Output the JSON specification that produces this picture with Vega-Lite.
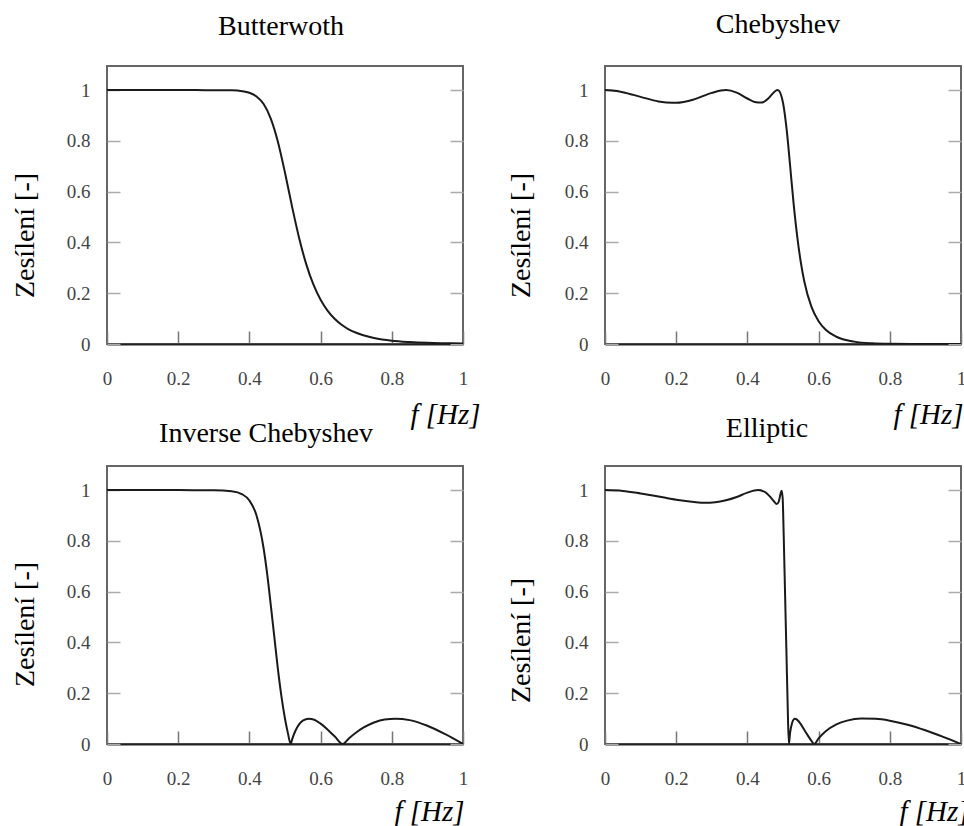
{
  "$schema": "https://vega.github.io/schema/vega-lite/v6.json",
  "background": "white",
  "padding": {"left": 10, "top": 10, "right": 0, "bottom": 0},
  "config": {
    "view": {"stroke": "#666", "strokeWidth": 2},
    "font": "Liberation Serif",
    "style": {
      "guide-label": {"font": "Liberation Serif", "fontSize": 19, "fill": "#444"},
      "guide-title": {"font": "Liberation Serif", "fontSize": 28, "fontWeight": "normal", "fill": "#000"},
      "group-title": {"font": "Liberation Serif", "fontSize": 28, "fontWeight": "normal", "fill": "#000"}
    },
    "title": {"font": "Liberation Serif", "fontSize": 28, "fontWeight": "normal", "color": "#000", "baseline": "alphabetic", "anchor": "middle"},
    "axis": {"grid": false, "labelFont": "Liberation Serif", "labelFontSize": 19, "labelColor": "#444", "titleFont": "Liberation Serif", "titleFontWeight": "normal", "titleColor": "#000", "titleFontSize": 28, "tickSize": -13, "tickWidth": 1.5, "labelOverlap": false, "labelFlush": false, "format": "~g"},
    "axisBottom": {"labelFont": "Liberation Serif", "titleFont": "Liberation Serif", "domainColor": "#222", "domainWidth": 2, "tickColor": "#777", "labelPadding": 38, "titleAlign": "right", "titleBaseline": "alphabetic", "titleFontStyle": "italic", "titleFontSize": 29},
    "axisLeft": {"labelFont": "Liberation Serif", "titleFont": "Liberation Serif", "domain": false, "tickColor": "#aaa", "labelPadding": 30, "titleAlign": "center", "titleBaseline": "alphabetic", "titleX": -74},
    "axisRight": {"domain": false, "labels": false, "tickColor": "#aaa"}
  },
  "datasets": {
    "butter": [
      {"f": 0, "g": 1}, {"f": 0.05, "g": 1}, {"f": 0.1, "g": 1}, {"f": 0.15, "g": 1}, {"f": 0.2, "g": 1}, {"f": 0.25, "g": 1},
      {"f": 0.3, "g": 0.9999}, {"f": 0.35, "g": 0.999}, {"f": 0.38, "g": 0.9957}, {"f": 0.4, "g": 0.9894}, {"f": 0.42, "g": 0.975},
      {"f": 0.44, "g": 0.945}, {"f": 0.46, "g": 0.888}, {"f": 0.48, "g": 0.797}, {"f": 0.5, "g": 0.6745}, {"f": 0.52, "g": 0.54},
      {"f": 0.54, "g": 0.4156}, {"f": 0.56, "g": 0.3128}, {"f": 0.58, "g": 0.2336}, {"f": 0.6, "g": 0.1743}, {"f": 0.62, "g": 0.1307},
      {"f": 0.64, "g": 0.0986}, {"f": 0.66, "g": 0.0749}, {"f": 0.68, "g": 0.057}, {"f": 0.7, "g": 0.0442}, {"f": 0.72, "g": 0.0343},
      {"f": 0.75, "g": 0.0238}, {"f": 0.8, "g": 0.013}, {"f": 0.85, "g": 0.0077}, {"f": 0.9, "g": 0.0046}, {"f": 0.95, "g": 0.003}, {"f": 1, "g": 0.0018}
    ],
    "cheb": [
      {"f": 0, "g": 1}, {"f": 0.02, "g": 0.9988}, {"f": 0.05, "g": 0.992}, {"f": 0.1, "g": 0.9735}, {"f": 0.15, "g": 0.9556}, {"f": 0.19, "g": 0.9501},
      {"f": 0.2, "g": 0.9502}, {"f": 0.25, "g": 0.9636}, {"f": 0.3, "g": 0.9892}, {"f": 0.34, "g": 1.0}, {"f": 0.37, "g": 0.9902},
      {"f": 0.4, "g": 0.967}, {"f": 0.42, "g": 0.9535}, {"f": 0.44, "g": 0.9508}, {"f": 0.46, "g": 0.969}, {"f": 0.48, "g": 0.998},
      {"f": 0.485, "g": 1.0}, {"f": 0.495, "g": 0.979}, {"f": 0.5, "g": 0.95}, {"f": 0.51, "g": 0.848}, {"f": 0.52, "g": 0.702},
      {"f": 0.53, "g": 0.55}, {"f": 0.54, "g": 0.423}, {"f": 0.55, "g": 0.322}, {"f": 0.56, "g": 0.2455}, {"f": 0.58, "g": 0.1463},
      {"f": 0.6, "g": 0.0899}, {"f": 0.62, "g": 0.0563}, {"f": 0.65, "g": 0.0286}, {"f": 0.7, "g": 0.0094}, {"f": 0.75, "g": 0.0029},
      {"f": 0.8, "g": 0.001}, {"f": 0.9, "g": 0.0001}, {"f": 1, "g": 0}
    ],
    "invcheb": [
      {"f": 0, "g": 1}, {"f": 0.1, "g": 1}, {"f": 0.2, "g": 1}, {"f": 0.3, "g": 0.9995}, {"f": 0.35, "g": 0.9957}, {"f": 0.38, "g": 0.9835},
      {"f": 0.4, "g": 0.9592}, {"f": 0.42, "g": 0.9}, {"f": 0.44, "g": 0.77}, {"f": 0.45, "g": 0.669}, {"f": 0.46, "g": 0.548},
      {"f": 0.47, "g": 0.4217}, {"f": 0.48, "g": 0.296}, {"f": 0.49, "g": 0.1876}, {"f": 0.5, "g": 0.0995}, {"f": 0.508, "g": 0.0437},
      {"f": 0.516, "g": 0}, {"f": 0.52, "g": 0.0183}, {"f": 0.53, "g": 0.054}, {"f": 0.54, "g": 0.078}, {"f": 0.55, "g": 0.0924},
      {"f": 0.567, "g": 0.0995}, {"f": 0.58, "g": 0.0967}, {"f": 0.6, "g": 0.0803}, {"f": 0.62, "g": 0.0563}, {"f": 0.64, "g": 0.0292},
      {"f": 0.662, "g": 0}, {"f": 0.68, "g": 0.023}, {"f": 0.7, "g": 0.0453}, {"f": 0.72, "g": 0.0641}, {"f": 0.75, "g": 0.0849},
      {"f": 0.78, "g": 0.0968}, {"f": 0.81, "g": 0.0995}, {"f": 0.85, "g": 0.0941}, {"f": 0.9, "g": 0.0718}, {"f": 0.95, "g": 0.0386}, {"f": 1, "g": 0}
    ],
    "ellip": [
      {"f": 0, "g": 1}, {"f": 0.05, "g": 0.997}, {"f": 0.1, "g": 0.987}, {"f": 0.15, "g": 0.975}, {"f": 0.2, "g": 0.962}, {"f": 0.25, "g": 0.953},
      {"f": 0.28, "g": 0.95}, {"f": 0.31, "g": 0.952}, {"f": 0.34, "g": 0.96}, {"f": 0.37, "g": 0.973}, {"f": 0.4, "g": 0.99},
      {"f": 0.43, "g": 1.0}, {"f": 0.45, "g": 0.992}, {"f": 0.465, "g": 0.972}, {"f": 0.475, "g": 0.955}, {"f": 0.482, "g": 0.945},
      {"f": 0.488, "g": 0.955}, {"f": 0.493, "g": 0.985}, {"f": 0.496, "g": 0.998}, {"f": 0.499, "g": 0.97}, {"f": 0.502, "g": 0.82},
      {"f": 0.506, "g": 0.58}, {"f": 0.51, "g": 0.34}, {"f": 0.513, "g": 0.16}, {"f": 0.5165, "g": 0}, {"f": 0.52, "g": 0.045},
      {"f": 0.525, "g": 0.08}, {"f": 0.533, "g": 0.099}, {"f": 0.54, "g": 0.095}, {"f": 0.55, "g": 0.078}, {"f": 0.56, "g": 0.055},
      {"f": 0.57, "g": 0.033}, {"f": 0.58, "g": 0.012}, {"f": 0.588, "g": 0}, {"f": 0.6, "g": 0.022}, {"f": 0.62, "g": 0.05},
      {"f": 0.65, "g": 0.077}, {"f": 0.68, "g": 0.092}, {"f": 0.72, "g": 0.1}, {"f": 0.76, "g": 0.099}, {"f": 0.8, "g": 0.092},
      {"f": 0.85, "g": 0.076}, {"f": 0.9, "g": 0.054}, {"f": 0.95, "g": 0.028}, {"f": 1, "g": 0}
    ]
  },
  "columns": 2,
  "spacing": {"row": 122, "column": 142},
  "bounds": "flush",
  "concat": [
    {
      "width": 356, "height": 278,
      "title": {"text": "Butterwoth", "dx": -4, "offset": 25},
      "data": {"name": "butter"},
      "encoding": {"x": {"field": "f", "type": "quantitative", "scale": {"domain": [0, 1], "nice": false, "zero": false}, "axis": {"values": [0, 0.2, 0.4, 0.6, 0.8, 1], "labelFont": "Liberation Serif", "labelFontSize": 19, "titleFont": "Liberation Serif", "title": "f [Hz]", "titleX": 373, "titleY": 79}}},
      "layer": [
        {"mark": {"type": "line", "color": "#1a1a1a", "strokeWidth": 2, "interpolate": "monotone", "clip": true},
         "encoding": {"y": {"field": "g", "type": "quantitative", "scale": {"domain": [0, 1.095], "nice": false}, "axis": {"values": [0, 0.2, 0.4, 0.6, 0.8, 1], "labelFont": "Liberation Serif", "labelFontSize": 19, "titleFont": "Liberation Serif", "titleFontSize": 28, "title": "Zesílení [-]", "titleY": 169}}}},
        {"mark": {"type": "line", "opacity": 0},
         "encoding": {"y": {"field": "g", "type": "quantitative", "scale": {"domain": [0, 1.095], "nice": false}, "axis": {"orient": "right", "values": [0, 0.2, 0.4, 0.6, 0.8, 1], "title": null}}}}
      ],
      "resolve": {"scale": {"y": "independent"}, "axis": {"y": "independent"}}
    },
    {
      "width": 356, "height": 278,
      "title": {"text": "Chebyshev", "dx": -5, "offset": 27},
      "data": {"name": "cheb"},
      "encoding": {"x": {"field": "f", "type": "quantitative", "scale": {"domain": [0, 1], "nice": false, "zero": false}, "axis": {"values": [0, 0.2, 0.4, 0.6, 0.8, 1], "labelFont": "Liberation Serif", "labelFontSize": 19, "titleFont": "Liberation Serif", "title": "f [Hz]", "titleX": 358, "titleY": 79}}},
      "layer": [
        {"mark": {"type": "line", "color": "#1a1a1a", "strokeWidth": 2, "interpolate": "monotone", "clip": true},
         "encoding": {"y": {"field": "g", "type": "quantitative", "scale": {"domain": [0, 1.095], "nice": false}, "axis": {"values": [0, 0.2, 0.4, 0.6, 0.8, 1], "labelFont": "Liberation Serif", "labelFontSize": 19, "titleFont": "Liberation Serif", "titleFontSize": 28, "title": "Zesílení [-]", "titleY": 169, "titleX": -76}}}},
        {"mark": {"type": "line", "opacity": 0},
         "encoding": {"y": {"field": "g", "type": "quantitative", "scale": {"domain": [0, 1.095], "nice": false}, "axis": {"orient": "right", "values": [0, 0.2, 0.4, 0.6, 0.8, 1], "title": null}}}}
      ],
      "resolve": {"scale": {"y": "independent"}, "axis": {"y": "independent"}}
    },
    {
      "width": 356, "height": 278,
      "title": {"text": "Inverse Chebyshev", "dx": -19, "offset": 18},
      "data": {"name": "invcheb"},
      "encoding": {"x": {"field": "f", "type": "quantitative", "scale": {"domain": [0, 1], "nice": false, "zero": false}, "axis": {"values": [0, 0.2, 0.4, 0.6, 0.8, 1], "labelFont": "Liberation Serif", "labelFontSize": 19, "titleFont": "Liberation Serif", "title": "f [Hz]", "titleX": 357, "titleY": 76}}},
      "layer": [
        {"mark": {"type": "line", "color": "#1a1a1a", "strokeWidth": 2, "interpolate": "monotone", "clip": true},
         "encoding": {"y": {"field": "g", "type": "quantitative", "scale": {"domain": [0, 1.095], "nice": false}, "axis": {"values": [0, 0.2, 0.4, 0.6, 0.8, 1], "labelFont": "Liberation Serif", "labelFontSize": 19, "titleFont": "Liberation Serif", "titleFontSize": 28, "title": "Zesílení [-]", "titleY": 158}}}},
        {"mark": {"type": "line", "opacity": 0},
         "encoding": {"y": {"field": "g", "type": "quantitative", "scale": {"domain": [0, 1.095], "nice": false}, "axis": {"orient": "right", "values": [0, 0.2, 0.4, 0.6, 0.8, 1], "title": null}}}}
      ],
      "resolve": {"scale": {"y": "independent"}, "axis": {"y": "independent"}}
    },
    {
      "width": 356, "height": 278,
      "title": {"text": "Elliptic", "dx": -16, "offset": 23},
      "data": {"name": "ellip"},
      "encoding": {"x": {"field": "f", "type": "quantitative", "scale": {"domain": [0, 1], "nice": false, "zero": false}, "axis": {"values": [0, 0.2, 0.4, 0.6, 0.8, 1], "labelFont": "Liberation Serif", "labelFontSize": 19, "titleFont": "Liberation Serif", "title": "f [Hz]", "titleX": 364, "titleY": 76}}},
      "layer": [
        {"mark": {"type": "line", "color": "#1a1a1a", "strokeWidth": 2, "interpolate": "monotone", "clip": true},
         "encoding": {"y": {"field": "g", "type": "quantitative", "scale": {"domain": [0, 1.095], "nice": false}, "axis": {"values": [0, 0.2, 0.4, 0.6, 0.8, 1], "labelFont": "Liberation Serif", "labelFontSize": 19, "titleFont": "Liberation Serif", "titleFontSize": 28, "title": "Zesílení [-]", "titleY": 174, "titleX": -76}}}},
        {"mark": {"type": "line", "opacity": 0},
         "encoding": {"y": {"field": "g", "type": "quantitative", "scale": {"domain": [0, 1.095], "nice": false}, "axis": {"orient": "right", "values": [0, 0.2, 0.4, 0.6, 0.8, 1], "title": null}}}}
      ],
      "resolve": {"scale": {"y": "independent"}, "axis": {"y": "independent"}}
    }
  ]
}
